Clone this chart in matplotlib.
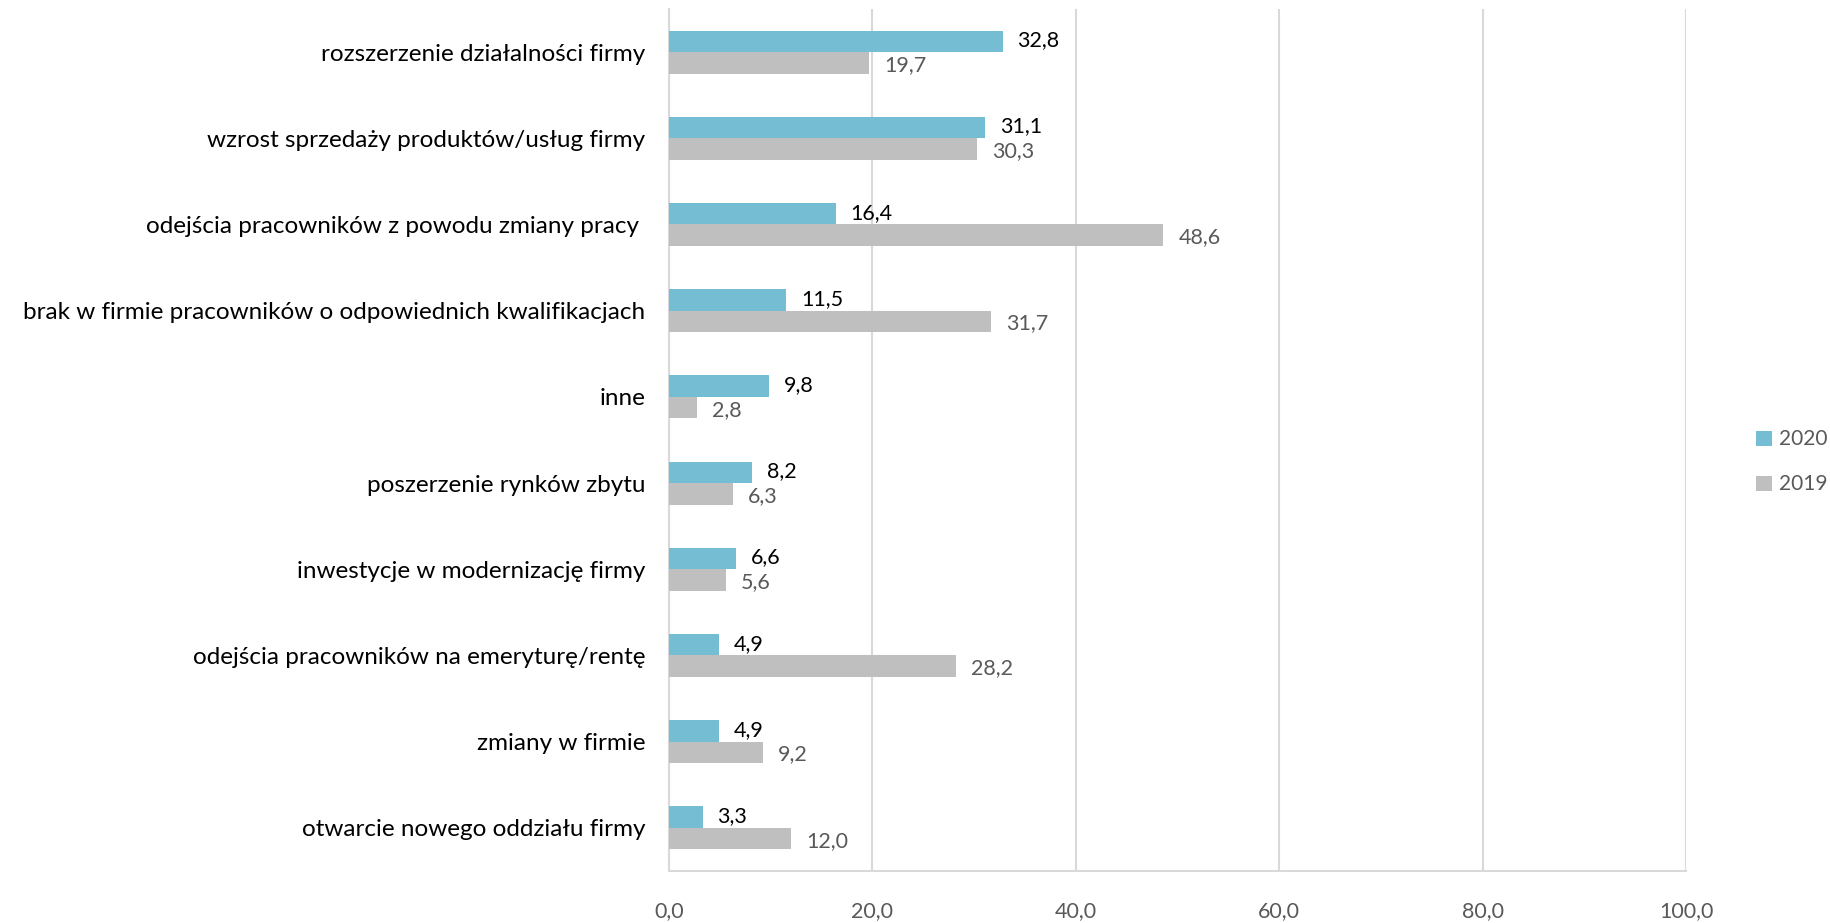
import numpy as np
import matplotlib.pyplot as plt

plt.rcParams['font.family'] = ['Lato', 'DejaVu Sans']

# categories from top to bottom
categories = [
    "rozszerzenie działalności firmy",
    "wzrost sprzedaży produktów/usług firmy",
    "odejścia pracowników z powodu zmiany pracy ",
    "brak w firmie pracowników o odpowiednich kwalifikacjach",
    "inne",
    "poszerzenie rynków zbytu",
    "inwestycje w modernizację firmy",
    "odejścia pracowników na emeryturę/rentę",
    "zmiany w firmie",
    "otwarcie nowego oddziału firmy",
]
v2020 = [32.8, 31.1, 16.4, 11.5, 9.8, 8.2, 6.6, 4.9, 4.9, 3.3]
v2019 = [19.7, 30.3, 48.6, 31.7, 2.8, 6.3, 5.6, 28.2, 9.2, 12.0]
xticks = [0, 20, 40, 60, 80, 100]

c2020 = "#74BDD3"
c2019 = "#BFBFBF"

fig = plt.figure(figsize=(18.31, 9.23), dpi=100)
ax = fig.add_axes([669/1831, 1 - 871/923, (1686-669)/1831, (871-9)/923])

y = np.arange(len(categories))
h = 0.25
ax.barh(y - h/2, v2020, height=h, color=c2020, label="2020", zorder=3)
ax.barh(y + h/2, v2019, height=h, color=c2019, label="2019", zorder=3)

# value labels
for yi, a, b in zip(y, v2020, v2019):
    ax.annotate(f"{a:.1f}".replace(".", ","), (a, yi - h/2), xytext=(15, 1),
                textcoords="offset pixels", va="center", ha="left",
                fontsize=15.5, color="black")
    ax.annotate(f"{b:.1f}".replace(".", ","), (b, yi + h/2), xytext=(15, -2),
                textcoords="offset pixels", va="center", ha="left",
                fontsize=15.5, color="#595959")

ax.set_ylim(len(categories) - 0.5, -0.5)
ax.set_xlim(0, 100)
ax.set_yticks(y)
ax.set_yticklabels(categories, fontsize=17.5, color="black")
ax.set_xticks(xticks)
ax.set_xticklabels([f"{t:.1f}".replace(".", ",") for t in xticks], fontsize=15.5, color="#595959")
ax.tick_params(axis="y", length=0, pad=17)
ax.tick_params(axis="x", length=0, pad=22)

ax.grid(axis="x", color="#D9D9D9", linewidth=1.5, zorder=0)
for s in ["top", "right"]:
    ax.spines[s].set_visible(False)
ax.spines["left"].set_color("#D9D9D9")
ax.spines["left"].set_linewidth(1.5)
ax.spines["bottom"].set_color("#D9D9D9")
ax.spines["bottom"].set_linewidth(1.5)

leg = fig.legend(loc="center left", bbox_to_anchor=(1756/1831, 1 - 462/923),
                 frameon=False, fontsize=15, handlelength=0.75, handleheight=0.75,
                 handletextpad=0.35, labelspacing=1.2, borderpad=0, borderaxespad=0)
for t in leg.get_texts():
    t.set_color("#595959")

fig.savefig("out.png", dpi=100)
